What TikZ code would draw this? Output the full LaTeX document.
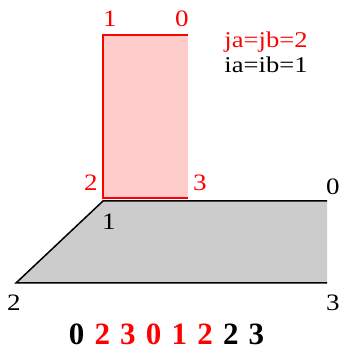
\documentclass[tikz,border=0pt]{standalone}
\usepackage{fontspec}
\setmainfont{Liberation Serif}
\begin{document}
\begin{tikzpicture}[x=1pt,y=1pt,
  lbl/.style={inner sep=0pt},
  rlbl/.style={lbl,text=red},
  edgeR/.style={draw=red,line width=1.5pt},
  edgeK/.style={draw=black,line width=1.5pt}]
\useasboundingbox (0,0) rectangle (341,351);
\newcommand{\lb}[1]{\fontsize{23.5}{27}\selectfont\scalebox{1.15}[1]{#1}}
\newcommand{\lt}[1]{\fontsize{22.5}{26}\selectfont\scalebox{1.18}[1]{#1}}
\newcommand{\myskip}{\hspace{10.2pt}}
\newcommand{\lbig}[1]{\fontsize{31}{34}\selectfont\bfseries #1}
% gray face
\coordinate (g1) at (103,150);
\coordinate (g0) at (327,150);
\coordinate (g3) at (327,68);
\coordinate (g2) at (16,68);
\fill[black!20] (g1) -- (g0) -- (g3) -- (g2) -- cycle;
\draw[edgeK] (g0) -- (g1) -- (g2) -- (g3);
% red face
\coordinate (r1) at (103,316);
\coordinate (r0) at (188,316);
\coordinate (r3) at (188,153);
\coordinate (r2) at (103,153);
\fill[red!20] (r1) -- (r0) -- (r3) -- (r2) -- cycle;
\draw[edgeR] (r0) -- (r1) -- (r2) -- (r3);
% red labels
\node[rlbl] (t1) at (110,332) {\lb{1}};
\node[rlbl] (t0) at (182,332) {\lb{0}};
\node[rlbl] (t2) at (91,168) {\lb{2}};
\node[rlbl] (t3) at (200,168) {\lb{3}};
% black labels
\node[lbl] (b0) at (333,164) {\lb{0}};
\node[lbl] (b1) at (109,129) {\lb{1}};
\node[lbl] (b2) at (14,48) {\lb{2}};
\node[lbl] (b3) at (333,48) {\lb{3}};
% text
\node[lbl,text=red,anchor=base] (ja) at (266,303) {\lt{ja=jb=2}};
\node[lbl,anchor=base] (ia) at (266,278) {\lt{ia=ib=1}};
\node[lbl,anchor=base] (seq) at (166.5,6) {\lbig{0\myskip\textcolor{red}{2\myskip3\myskip0\myskip1\myskip2}\myskip2\myskip3}};
\end{tikzpicture}
\end{document}
